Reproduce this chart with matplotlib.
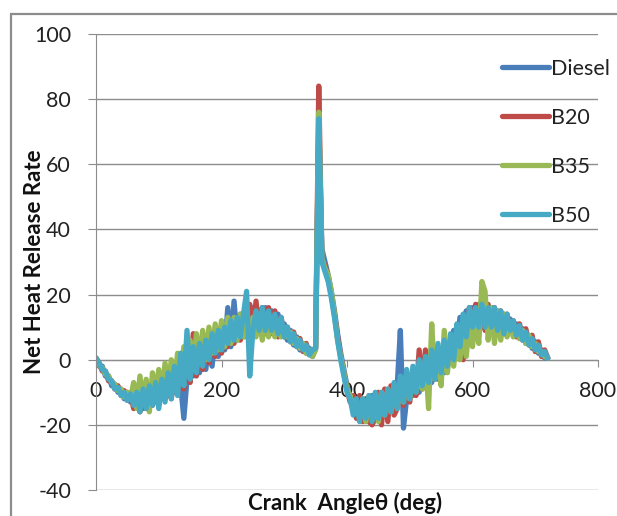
import numpy as np
import matplotlib
matplotlib.use("Agg")
import matplotlib.pyplot as plt
from matplotlib.patches import Rectangle

theta = np.arange(0, 725, 5)

diesel = [
    0.5, -2, -2, -5, -5, -8, -7.5, -10, -9, -12, -10, -13,
    -8, -14, -9, -15, -8, -14, -7, -13, -6, -12, -4, -11,
    -3, -10, -1, -8, -18, -6, 2, -5, 3, -4, 5, -3,
    6, -2, 8, 1, 10, 3, 16, 4, 18, 6, 14, 7,
    15, 7, 16, 8, 15, 9, 16, 8, 15, 8, 14, 8,
    11, 6, 9, 4.5, 7, 3, 5, 2, 3.5, 1, 4, 72,
    34, 30, 26, 21, 15, 8, 2, -3, -8, -12, -13, -17,
    -12, -18, -12, -19, -11, -18, -11, -18, -10, -17, -9, -16,
    -8, 9, -21, -12, -5, -11, -3, -10, -2, -8, -1, -7,
    1, -6, 3, -4, 5, 0, 9, 3, 13, 6, 15, 9,
    16, 9, 17, 10, 16, 10, 16, 9, 15, 9, 14, 9,
    12.5, 8, 11, 6.5, 9.5, 5, 7.5, 3.5, 5.5, 2, 3, 0.5,
    0.5]

b20 = [
    0.5, -1, -3.5, -3.5, -6.5, -6.5, -9, -8, -11, -9.5, -12.5, -10.5,
    -15, -10, -16, -9, -15, -8, -14, -7, -14, -6, -12, -5,
    -12, -3, -10, -1, -9, 0, -7, 8, -5, 3, -3, 5,
    -1, 7, 1, 9, 2, 10, 4, 12, 5, 13, 6, 14,
    7, 17, 8, 18, 9, 16, 8, 16, 8, 15, 7, 13,
    7, 10, 5.5, 8.5, 4, 6.5, 2.5, 5, 1.5, 3, 3.5, 84,
    30, 29, 25, 20, 14, 7, 1, -4, -9, -13, -11, -18,
    -11, -19, -12, -19, -20, -18, -10, -20, -9, -19, -8, -17,
    -15, -6, -14, -5, -13, -4, -11, 3, -9, 3, -8, -1,
    -6, 1, -4, 3, -2, 6, 0, 10, 3, 0, 8, 16,
    9, 17, 9, 16, 9, 17, 9, 16, 8, 15, 8, 14,
    8.5, 12, 7, 11, 6, 9.5, 4.5, 7.5, 2.5, 5.5, 1, 3,
    0.5]

b35 = [
    0.5, -1.5, -2.5, -4.5, -5, -7, -7.5, -9.5, -9, -11.5, -10, -12,
    -7, -15, -5, -13, -6, -16, -4, -12, -3, -11, -1, -9,
    0, -8, 2, -6, 4, -4, 6, -3, 8, -1, 9, 0,
    10, 2, 11, 3, 12, 4, 13, 5, 13, 6, 14, 7,
    14, 7, 13, 7, 13, 6, 13, 7, 13, 7, 12, 7,
    10, 7, 8.5, 5, 6.5, 3.5, 5, 2, 3, 1, 3, 76,
    31, 28, 26, 21, 14, 6, 1, -4, -9, -11, -15, -13,
    -18, -12, -19, -11, -18, -12, -19, -10, -17, -9, -16, -8,
    -15, -7, -13, -5, -12, -4, -10, -3, -9, 0, -15, 11,
    -6, 3, -8, 9, -4, 5, -2, 7, 0, 9, 1, 11,
    4, 13, 5, 24, 21, 6, 16, 5, 15, 6, 14, 7,
    11.5, 7, 10, 6.5, 9, 5, 7.5, 4, 5, 2.5, 2.5, 1,
    0.5]

b50 = [
    0.5, -1, -3, -3.5, -6, -6.5, -9, -8.5, -11, -10, -12.5, -10.5,
    -14, -10, -16, -9, -15, -8, -14, -7, -15, -6, -13, -4,
    -12, -2, -11, 2, -8, 9, -6, 4, -4, 5, -2, 6,
    0, 8, 2, 9, 3, 10, 5, 12, 6, 13, 7, 14,
    21, -5, 9, 15, 9, 16, 9, 15, 9, 14, 8, 13,
    7, 10, 5.5, 8, 4, 6, 3, 4.5, 1.5, 3, 3.5, 74,
    30, 27, 24, 19, 13, 6, 0, -5, -10, -12, -17, -12,
    -19, -12, -18, -11, -19, -10, -18, -10, -17, -9, -16, -7,
    -15, -5, -13, -3, -12, -2, -10, 0, -8, 1, -7, 3,
    -6, 5, -4, 6, -2, 8, 0, 11, 4, 14, 7, 16,
    10, 16, 10, 17, 10, 16, 10, 16, 9, 15, 8, 14,
    9, 12, 7.5, 10.5, 6, 8.5, 4.5, 6.5, 3, 4.5, 1.5, 2.5,
    0.5]

series_names = ["Diesel", "B20", "B35", "B50"]
series_colors = ["#4A7EBB", "#BE4B48", "#98B954", "#46AAC5"]
x_ticks = [0, 200, 400, 600, 800]
y_ticks = [-40, -20, 0, 20, 40, 60, 80, 100]

plt.rcParams['font.family'] = ['Lato', 'DejaVu Sans']
plt.rcParams['axes.unicode_minus'] = False

W, H = 617, 516
fig = plt.figure(figsize=(W / 100, H / 100), dpi=100)
fig.patches.append(Rectangle((11 / W, -0.1), 1.2, 1 - 14 / H + 0.1,
                             transform=fig.transFigure, fill=False,
                             edgecolor="#8C8C8C", linewidth=1.6))

ax = fig.add_axes([96 / W, 1 - 490 / H, (598 - 96) / W, (490 - 34) / H])
for name, vals, col in zip(series_names, [diesel, b20, b35, b50], series_colors):
    ax.plot(theta, vals, color=col, linewidth=3.8, label=name,
            solid_joinstyle='round', solid_capstyle='round')

ax.set_xlim(0, 800)
ax.set_ylim(-40, 100)
ax.set_xticks(x_ticks)
ax.set_yticks(y_ticks)
ax.yaxis.grid(True, color="#8C8C8C", linewidth=1.0)
ax.set_axisbelow(True)
for s in ["top", "right"]:
    ax.spines[s].set_visible(False)
ax.spines["bottom"].set_position(("data", 0))
ax.spines["bottom"].set_color("#8C8C8C")
ax.spines["left"].set_color("#8C8C8C")
ax.spines["bottom"].set_zorder(0.5)
ax.tick_params(axis="y", direction="out", length=6, color="#8C8C8C",
               labelsize=15.5, pad=12, labelcolor="#222222")
ax.tick_params(axis="x", direction="out", length=5, color="#8C8C8C",
               labelsize=15.5, pad=10, labelcolor="#222222")

leg = ax.legend(loc="upper left", bbox_to_anchor=((493 - 96) / (598 - 96), 1 - 16 / 456),
                frameon=False, fontsize=15.5, handlelength=2.2, handletextpad=0.1,
                labelspacing=1.35, borderaxespad=0)
for line in leg.get_lines():
    line.set_linewidth(3.8)
for t in leg.get_texts():
    t.set_color("#222222")

fig.text(35 / W, 1 - 262 / H, "Net Heat Release Rate", rotation=90,
         ha="center", va="center", fontsize=16, fontweight="bold", color="#111111")
fig.text(345 / W, 1 - 503 / H, "Crank  Angle\u03b8 (deg)",
         ha="center", va="center", fontsize=16, fontweight="bold", color="#111111")

fig.savefig("out.png", dpi=100)
